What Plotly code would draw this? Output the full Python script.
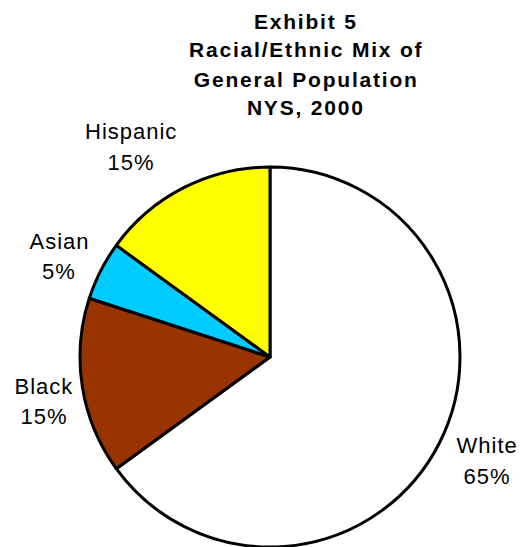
import plotly.graph_objects as go

# Racial/ethnic mix, New York State, 2000 (percent of population)
groups = ["White", "Black", "Asian", "Hispanic"]
shares = [65, 15, 5, 15]
slice_colors = ["#FFFFFF", "#993300", "#00CCFF", "#FFFF00"]

title_lines = ["Exhibit 5", "Racial/Ethnic Mix of", "General Population", "NYS, 2000"]

W, H = 522, 547

# label anchor points (pixel centres of the two text lines) for each group
label_pos = {
    "White": (487, 445, 476),
    "Black": (44, 386, 416),
    "Asian": (59, 241, 271),
    "Hispanic": (131, 131, 162),
}
title_x = 306
title_y = [22, 50, 79, 107]

FONT = "Liberation Sans, Arial, sans-serif"


def px_x(x):
    return x / W


def px_y(y):
    return 1 - y / H


fig = go.Figure(
    go.Pie(
        labels=groups,
        values=shares,
        marker=dict(colors=slice_colors, line=dict(color="#000000", width=3)),
        sort=False,
        direction="clockwise",
        rotation=0,
        textinfo="none",
        hoverinfo="label+percent",
        showlegend=False,
        domain=dict(x=[px_x(80), px_x(460)], y=[0, px_y(167)]),
    )
)

annotations = []
for g, v in zip(groups, shares):
    x, y1, y2 = label_pos[g]
    for txt, yy in ((g, y1), (f"{v}%", y2)):
        annotations.append(
            dict(
                text=txt, x=px_x(x), y=px_y(yy), xref="paper", yref="paper",
                xanchor="center", yanchor="middle", showarrow=False,
                font=dict(family=FONT, size=22, color="#000000"),
            )
        )

for line, yy in zip(title_lines, title_y):
    annotations.append(
        dict(
            text=f"<b>{line}</b>", x=px_x(title_x), y=px_y(yy),
            xref="paper", yref="paper", xanchor="center", yanchor="middle",
            showarrow=False, font=dict(family=FONT, size=21, color="#000000"),
        )
    )

fig.update_layout(
    width=W,
    height=H,
    margin=dict(l=0, r=0, t=0, b=0),
    paper_bgcolor="#FFFFFF",
    plot_bgcolor="#FFFFFF",
    annotations=annotations,
)

# widen the letter spacing of the text the way the original chart renders it
spacing_js = """
document.querySelectorAll('.annotation-text').forEach(function (t) {
  var raw = t.getAttribute('data-unformatted') || '';
  t.style.letterSpacing = raw.indexOf('<b>') >= 0 ? '1.8px' : '1px';
});
"""

fig.write_html("out.html", post_script=spacing_js)
